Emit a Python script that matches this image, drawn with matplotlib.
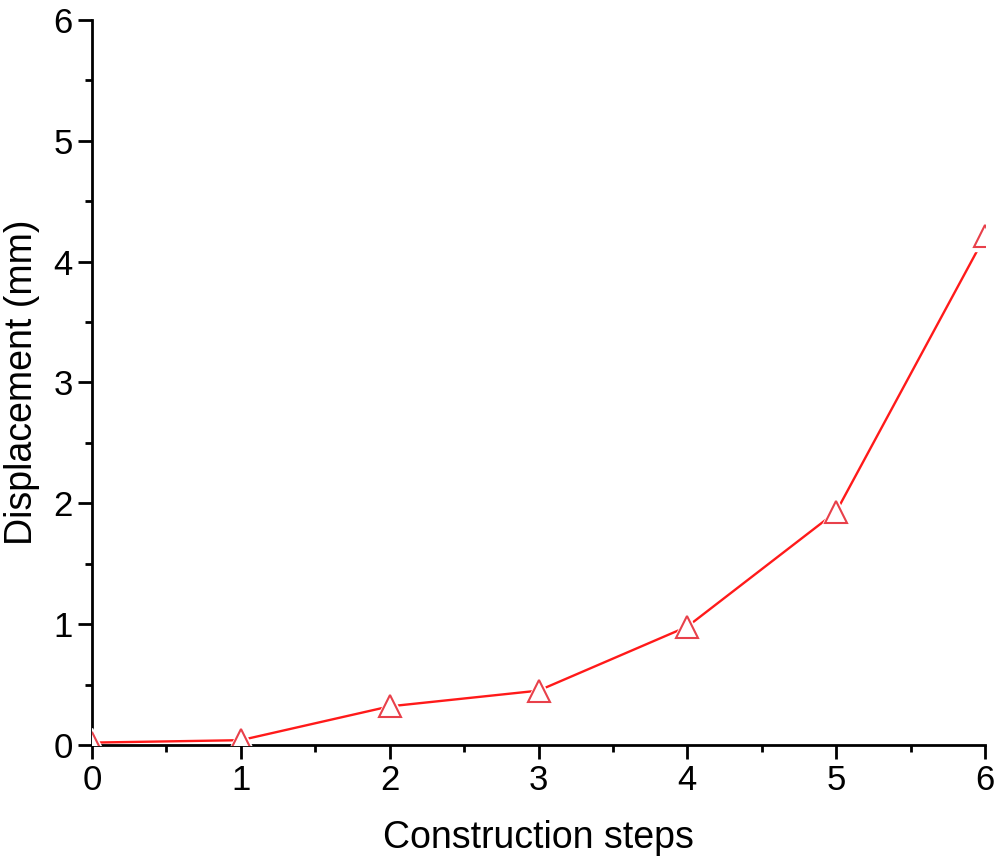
import numpy as np
import matplotlib.pyplot as plt
from matplotlib.ticker import MultipleLocator

plt.rcParams['font.family'] = ['Liberation Sans', 'DejaVu Sans']

steps = [0, 1, 2, 3, 4, 5, 6]
displacement = [0.02, 0.04, 0.32, 0.45, 0.98, 1.93, 4.21]

fig = plt.figure(figsize=(10, 8.66), dpi=100)
ax = fig.add_axes([0.092, 0.1397, 0.985 - 0.092, 0.977 - 0.1397])

# line first, then a white halo so the line stops short of each marker
ax.plot(steps, displacement, color='#ff1a1a', lw=1.7, zorder=2)
ax.plot(steps, displacement, ls='none', marker='^', ms=22,
        mfc='white', mec='white', zorder=3)
ax.plot(steps, displacement, ls='none', marker='^', ms=16,
        mfc='white', mec='#e8404a', mew=1.5, zorder=4)

ax.set_xlim(0, 6)
ax.set_ylim(0, 6)
ax.xaxis.set_major_locator(MultipleLocator(1))
ax.xaxis.set_minor_locator(MultipleLocator(0.5))
ax.yaxis.set_major_locator(MultipleLocator(1))
ax.yaxis.set_minor_locator(MultipleLocator(0.5))

for s in ['top', 'right']:
    ax.spines[s].set_visible(False)
for s in ['left', 'bottom']:
    ax.spines[s].set_linewidth(2)

ax.tick_params(which='major', direction='out', length=10, width=2,
               labelsize=25, pad=4)
ax.tick_params(which='minor', direction='out', length=5, width=2)

ax.set_xlabel('Construction steps', fontsize=27, labelpad=16)
ax.set_ylabel('Displacement (mm)', fontsize=27)
ax.yaxis.set_label_coords(-0.058, 0.5)

fig.savefig('out.png', dpi=100)
